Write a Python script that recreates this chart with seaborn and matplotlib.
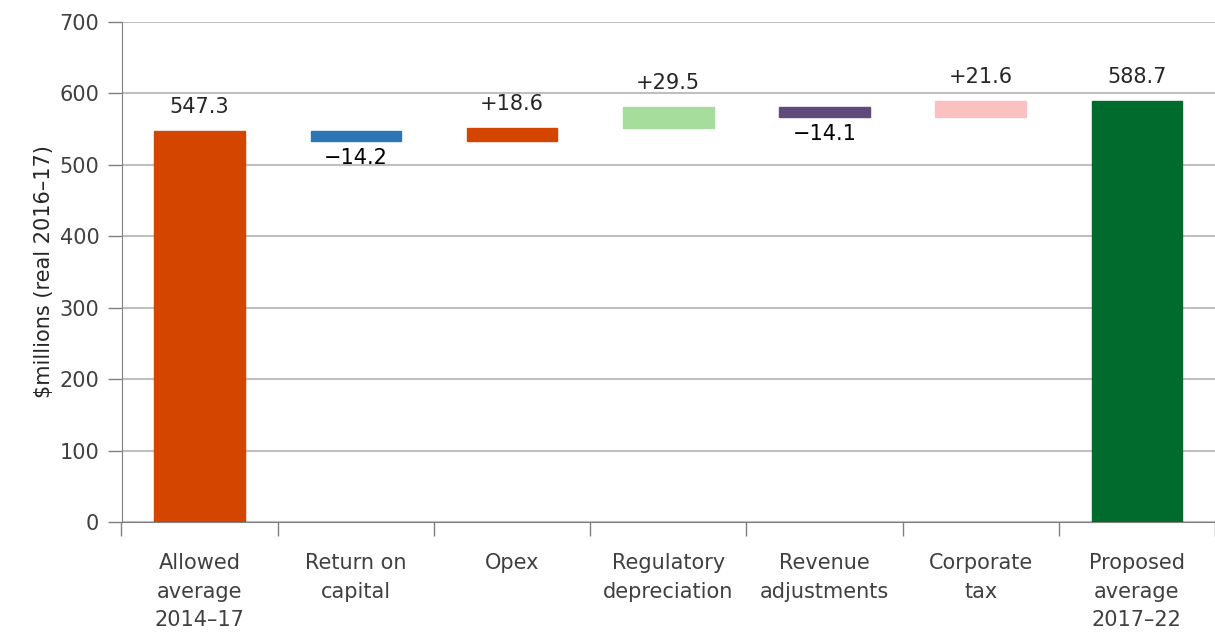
import numpy as np
import pandas as pd
import matplotlib
matplotlib.use("Agg")
import matplotlib.pyplot as plt
import seaborn as sns

# waterfall data ($m, real 2016-17)
categories = ["Allowed\naverage\n2014\u201317", "Return on\ncapital", "Opex",
              "Regulatory\ndepreciation", "Revenue\nadjustments", "Corporate\ntax",
              "Proposed\naverage\n2017\u201322"]
changes = [547.3, -14.2, 18.6, 29.5, -14.1, 21.6, 588.7]
is_total = [True, False, False, False, False, False, True]
bar_colors = ["#D44500", "#2E75B6", "#D44500", "#A6DC9C", "#604A7B", "#FBC0C0", "#006B2D"]

# build bottoms/heights for the floating bars
running = 0.0
bottoms, heights, labels = [], [], []
for val, tot in zip(changes, is_total):
    if tot:
        bottoms.append(0.0)
        heights.append(val)
        running = val
        labels.append(f"{val:.1f}")
    else:
        start = running
        running = running + val
        bottoms.append(min(start, running))
        heights.append(abs(val))
        labels.append(("+" if val > 0 else "\u2212") + f"{abs(val):.1f}")

df = pd.DataFrame({"cat": categories, "height": heights, "bottom": bottoms})

sns.set_style("white")
plt.rcParams["font.family"] = ["DejaVu Sans"]

fig = plt.figure(figsize=(12.15, 6.4), dpi=100)
ax = fig.add_axes([0.1, 0.184, 0.9, 0.782])

sns.barplot(data=df, x="cat", y="height", bottom=df["bottom"].values, width=0.58,
            color="#D44500", saturation=1, ax=ax, zorder=3)
for p, c in zip(ax.patches, bar_colors):
    p.set_facecolor(c)
    p.set_edgecolor(c)

# value labels
for i, (val, tot) in enumerate(zip(changes, is_total)):
    top = bottoms[i] + heights[i]
    if tot or val > 0:
        ax.annotate(labels[i], (i, top), xytext=(0, 10), textcoords="offset points",
                    ha="center", va="bottom", fontsize=15, color="#262626")
    else:
        ax.annotate(labels[i], (i, bottoms[i]), xytext=(0, -5), textcoords="offset points",
                    ha="center", va="top", fontsize=15, color="black")

ax.set_ylim(0, 700)
ax.set_xlim(-0.5, 6.5)
ax.set_yticks(np.arange(0, 701, 100))
ax.yaxis.grid(True, color="#BFBFBF", linewidth=1.5, zorder=0)
ax.set_axisbelow(True)

ax.set_xticks(range(len(categories)))
ax.set_xticklabels(categories, fontsize=15, color="#404040", linespacing=1.55)
ax.set_xticks(np.arange(-0.5, 6.6, 1), minor=True)
ax.tick_params(axis="x", which="major", bottom=False, length=0, pad=22)
ax.tick_params(axis="x", which="minor", bottom=True, length=10, color="#808080", width=1)
ax.tick_params(axis="y", left=True, length=10, color="#808080", width=1, labelsize=15,
               labelcolor="#404040", pad=6)

ax.set_xlabel("")
ax.set_ylabel("$millions (real 2016\u201317)", fontsize=15, color="#262626")

for s in ["top", "right"]:
    ax.spines[s].set_visible(False)
ax.spines["left"].set_color("#808080")
ax.spines["bottom"].set_color("#808080")

fig.savefig("out.png", dpi=100)
